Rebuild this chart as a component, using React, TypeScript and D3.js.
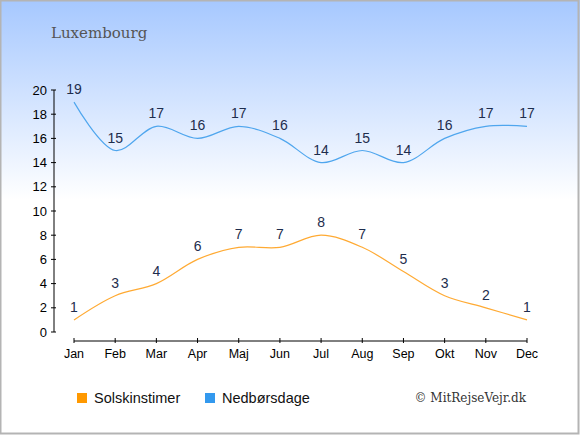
import { useEffect } from 'react'
import * as d3 from 'd3'

const W = 580
const H = 435

const MONTHS = ['Jan', 'Feb', 'Mar', 'Apr', 'Maj', 'Jun', 'Jul', 'Aug', 'Sep', 'Okt', 'Nov', 'Dec']
const SUN_HOURS = [1, 3, 4, 6, 7, 7, 8, 7, 5, 3, 2, 1]
const RAIN_DAYS = [19, 15, 17, 16, 17, 16, 14, 15, 14, 16, 17, 17]
const Y_TICKS = [0, 2, 4, 6, 8, 10, 12, 14, 16, 18, 20]

const SERIES = [
  { name: 'Solskinstimer', values: SUN_HOURS, line: '#ffaa33', swatch: '#ff9900' },
  { name: 'Nedbørsdage', values: RAIN_DAYS, line: '#4fa6ee', swatch: '#3399ee' },
]

const SANS = 'Arial, "Liberation Sans", sans-serif'
const SERIF = '"DejaVu Serif", serif'

export default function App() {
  useEffect(() => {
    document.body.style.margin = '0'
  }, [])

  const x = d3.scalePoint<string>().domain(MONTHS).range([74, 527])
  const y = d3.scaleLinear().domain([0, 20]).range([332, 90])

  const lineGen = d3.line<number>()
    .x((_, i) => x(MONTHS[i]) ?? 0)
    .y(d => y(d))
    .curve(d3.curveCatmullRom.alpha(0.5))

  const axisX = 54
  const axisY = 341

  return (
    <svg width={W} height={H} style={{ display: 'block' }}>
      <defs>
        <linearGradient id="bg" x1="0" y1="0" x2="0" y2={H} gradientUnits="userSpaceOnUse">
          <stop offset="0" stopColor="#a6c8ff" />
          <stop offset="0.46" stopColor="#ffffff" />
          <stop offset="1" stopColor="#ffffff" />
        </linearGradient>
      </defs>
      <rect x={0} y={0} width={W} height={H} fill="url(#bg)" />
      <rect x={0.5} y={0.5} width={W - 2} height={H - 2} fill="none" stroke="#b4b4b4" strokeWidth={2} />

      {/* title */}
      <text x={51} y={38} fontFamily={SERIF} fontSize={15} fill="#555">Luxembourg</text>

      {/* y axis */}
      <line x1={axisX} x2={axisX} y1={y(20)} y2={y(0)} stroke="#000" />
      {Y_TICKS.map(t => (
        <g key={t}>
          <line x1={axisX - 3} x2={axisX + 2} y1={y(t)} y2={y(t)} stroke="#000" />
          <text x={axisX - 7} y={y(t)} dy="0.35em" textAnchor="end" fontFamily={SANS} fontSize={13} fill="#000">{t}</text>
        </g>
      ))}

      {/* x axis */}
      <line x1={x('Jan')} x2={x('Dec')} y1={axisY} y2={axisY} stroke="#000" />
      {MONTHS.map(m => (
        <g key={m}>
          <line x1={x(m)} x2={x(m)} y1={axisY - 3} y2={axisY + 2} stroke="#000" />
          <text x={x(m)} y={358} textAnchor="middle" fontFamily={SANS} fontSize={12.5} fill="#000">{m}</text>
        </g>
      ))}

      {/* lines and value labels */}
      {SERIES.map(s => (
        <g key={s.name}>
          <path d={lineGen(s.values) ?? ''} fill="none" stroke={s.line} strokeWidth={1.2} />
          {s.values.map((v, i) => (
            <text key={i} x={x(MONTHS[i])} y={y(v) - 8} textAnchor="middle" fontFamily={SANS} fontSize={14} fill="#1e2d4d">{v}</text>
          ))}
        </g>
      ))}

      {/* legend */}
      {SERIES.map((s, i) => (
        <g key={s.name} transform={`translate(${77 + i * 128},393)`}>
          <rect x={0} y={0} width={10} height={10} fill={s.swatch} />
          <text x={17} y={10} fontFamily={SANS} fontSize={14.5} fill="#111">{s.name}</text>
        </g>
      ))}

      <text x={526} y={402} textAnchor="end" fontFamily={SERIF} fontSize={12} fill="#333">© MitRejseVejr.dk</text>
    </svg>
  )
}
